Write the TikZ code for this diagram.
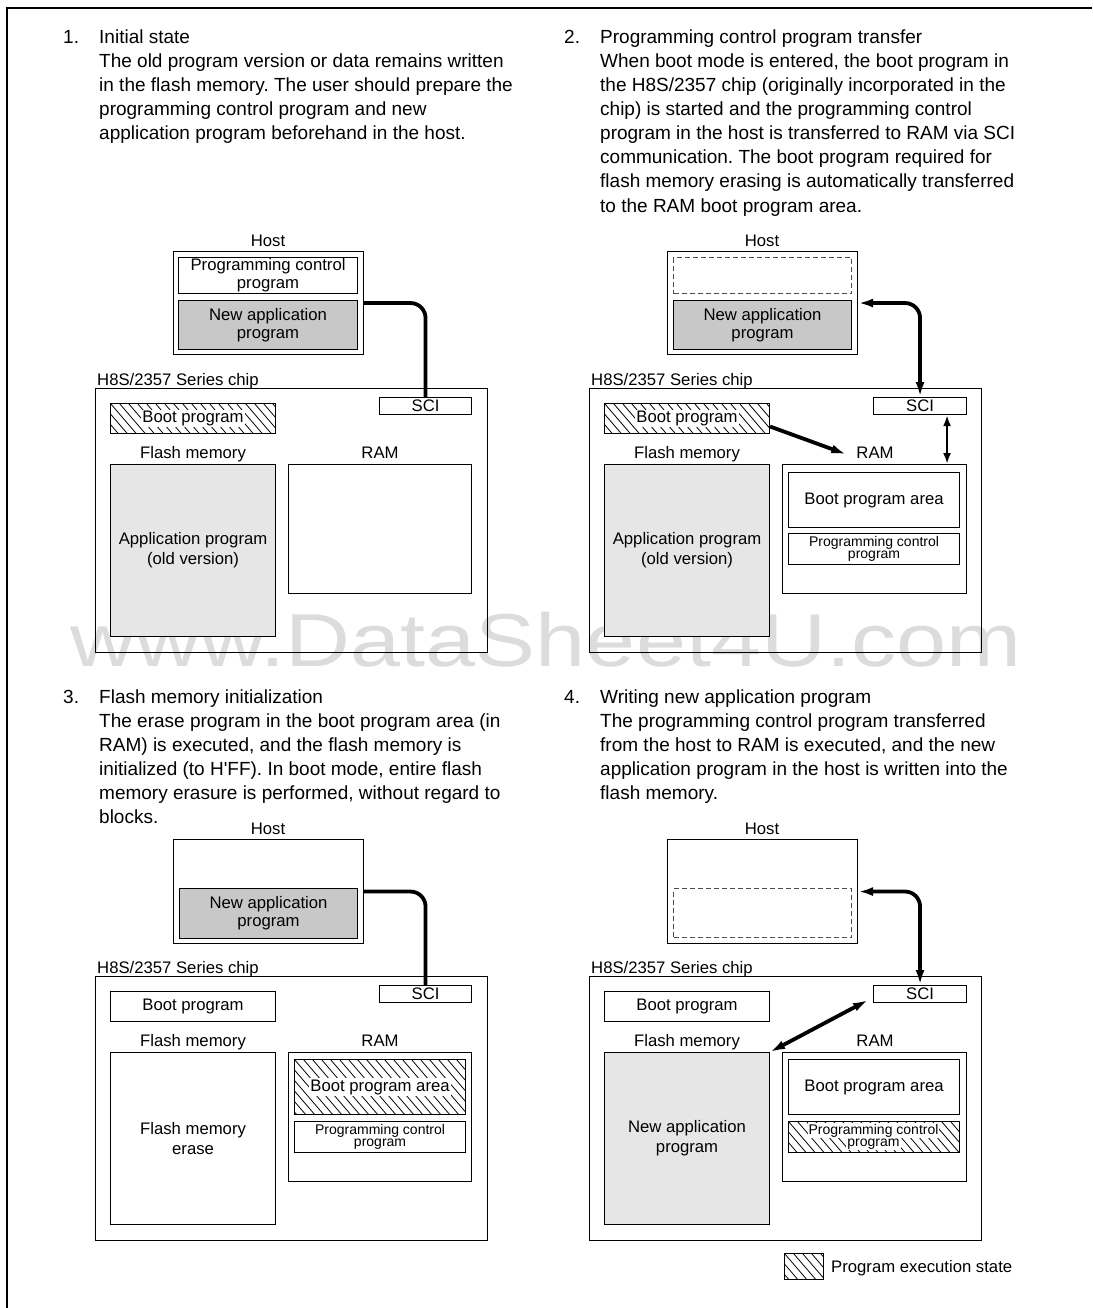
\documentclass[tikz,border=0pt]{standalone}
\usepackage{fontspec}
\setmainfont{Liberation Sans}
\usetikzlibrary{arrows.meta}
\definecolor{dg}{RGB}{200,200,200}
\definecolor{lg}{RGB}{230,230,230}
\definecolor{wm}{RGB}{220,220,220}
\newcommand{\txtf}{\fontsize{19}{24}\selectfont}
\newcommand{\labf}{\fontsize{16.7}{18}\selectfont}
\newcommand{\labtf}{\fontsize{16.7}{20}\selectfont}
\newcommand{\smf}{\fontsize{14}{12}\selectfont}
\newcommand{\rbox}[7]{\node[box,#2,minimum width={(#5-#3)*1pt},minimum height={(#6-#4)*1pt}] (#1) at (#3,#4) {#7};}
\frenchspacing
\begin{document}
\frenchspacing
\begin{tikzpicture}[x=1pt,y=-1pt,
  box/.style={draw=black,line width=1.1pt,inner sep=0pt,anchor=north west,align=center,font=\labf},
  dashbox/.style={draw=black!70,line width=1pt,dash pattern=on 5pt off 3pt},
  hatch/.style={path picture={\foreach \k in {-8,...,21}{\draw[line width=0.8pt] ([xshift=\k*9pt]path picture bounding box.north west) -- ++(60pt,-70pt);}}},
  lbw/.style={fill=white,inner sep=1.2pt,font=\labf},
  lab/.style={anchor=base,font=\labf,inner sep=0pt},
  para/.style={anchor=base west,font=\txtf,inner sep=0pt},
  conn/.style={line width=3.8pt},
  >={Latex[length=15pt,width=9pt]}]
\useasboundingbox (0,0) rectangle (1092,1308);
% watermark
\node[anchor=base,inner sep=0pt,text=wm,font=\fontsize{75}{75}\selectfont] (wmk) at (546,666) {\scalebox{1.2}[1]{www.DataSheet4U.com}};
% frame
\draw[line width=1.4pt] (1092,8) -- (7,8) -- (7,1308);

% ---------- texts ----------
\node[para] (n1) at (63,44) {1.};
\node[para] (p1a) at (99,44) {Initial state};
\node[para] (p1b) at (99,68) {The old program version or data remains written};
\node[para] (p1c) at (99,92) {in the flash memory. The user should prepare the};
\node[para] (p1d) at (99,116) {programming control program and new};
\node[para] (p1e) at (99,140) {application program beforehand in the host.};

\node[para] (n2) at (564,44) {2.};
\node[para] (p2a) at (600,44) {Programming control program transfer};
\node[para] (p2b) at (600,68) {When boot mode is entered, the boot program in};
\node[para] (p2c) at (600,92) {the H8S/2357 chip (originally incorporated in the};
\node[para] (p2d) at (600,116) {chip) is started and the programming control};
\node[para] (p2e) at (600,140) {program in the host is transferred to RAM via SCI};
\node[para] (p2f) at (600,164) {communication. The boot program required for};
\node[para] (p2g) at (600,188) {flash memory erasing is automatically transferred};
\node[para] (p2h) at (600,212) {to the RAM boot program area.};

\node[para] (n3) at (63,703) {3.};
\node[para] (p3a) at (99,703) {Flash memory initialization};
\node[para] (p3b) at (99,727) {The erase program in the boot program area (in};
\node[para] (p3c) at (99,751) {RAM) is executed, and the flash memory is};
\node[para] (p3d) at (99,775) {initialized (to H\textquotesingle FF). In boot mode, entire flash};
\node[para] (p3e) at (99,799) {memory erasure is performed, without regard to};
\node[para] (p3f) at (99,823) {blocks.};

\node[para] (n4) at (564,703) {4.};
\node[para] (p4a) at (600,703) {Writing new application program};
\node[para] (p4b) at (600,727) {The programming control program transferred};
\node[para] (p4c) at (600,751) {from the host to RAM is executed, and the new};
\node[para] (p4d) at (600,775) {application program in the host is written into the};
\node[para] (p4e) at (600,799) {flash memory.};

% ---------- panel 1 ----------
\node[lab] (h1l) at (268,246) {Host};
\rbox{h1}{}{173}{251}{363}{354}{}
\rbox{h1a}{}{178}{257}{357}{293}{Programming control\\program}
\rbox{h1b}{fill=dg}{178}{300}{357}{349}{New application\\program}
\node[lab,anchor=base west] (c1l) at (97,385) {H8S/2357 Series chip};
\rbox{c1}{}{95}{388}{487}{652}{}
\rbox{s1}{}{379}{397}{471}{414}{SCI}
\rbox{b1}{hatch}{110}{403}{275}{433}{}
\node[lbw] (b1t) at (b1.center) {Boot program};
\node[lab] (f1l) at (193,458) {Flash memory};
\rbox{f1}{fill=lg,font=\labtf}{110}{464}{275}{636}{Application program\\(old version)}
\node[lab] (r1l) at (380,458) {RAM};
\rbox{r1}{}{288}{464}{471}{593}{}
\draw[conn,rounded corners=15pt] (h1.east) -| (s1.north);

% ---------- panel 2 ----------
\node[lab] (h2l) at (762,246) {Host};
\rbox{h2}{}{667}{251}{857}{354}{}
\rbox{h2a}{dashbox}{673}{257}{851}{293}{}
\rbox{h2b}{fill=dg}{673}{300}{851}{349}{New application\\program}
\node[lab,anchor=base west] (c2l) at (591,385) {H8S/2357 Series chip};
\rbox{c2}{}{589}{388}{981}{652}{}
\rbox{s2}{}{873}{397}{966}{414}{SCI}
\rbox{b2}{hatch}{604}{403}{769}{433}{}
\node[lbw] (b2t) at (b2.center) {Boot program};
\node[lab] (f2l) at (687,458) {Flash memory};
\rbox{f2}{fill=lg,font=\labtf}{604}{464}{769}{636}{Application program\\(old version)}
\node[lab] (r2l) at (875,458) {RAM};
\rbox{r2}{}{782}{464}{966}{593}{}
\rbox{r2a}{}{788}{472}{959}{527}{Boot program area}
\rbox{r2b}{font=\smf}{788}{533}{959}{564}{Programming control\\program}
\draw[conn,<->,rounded corners=15pt] (h2.east) -| (s2.north);
\draw[conn,->] ([yshift=-8pt]b2.east) -- ([xshift=-10pt,yshift=-2pt]r2l.west);
\draw[line width=2.6pt,{Latex[length=11pt,width=8pt]}-{Latex[length=11pt,width=8pt]}] ([xshift=27pt]s2.south) -- ([xshift=27pt]s2.south |- r2.north);

% ---------- panel 3 ----------
\node[lab] (h3l) at (268,834) {Host};
\rbox{h3}{}{173}{839}{363}{943}{}
\rbox{h3b}{fill=dg}{179}{888}{357}{938}{New application\\program}
\node[lab,anchor=base west] (c3l) at (97,973) {H8S/2357 Series chip};
\rbox{c3}{}{95}{976}{487}{1240}{}
\rbox{s3}{}{379}{985}{471}{1002}{SCI}
\rbox{b3}{}{110}{991}{275}{1021}{Boot program}
\node[lab] (f3l) at (193,1046) {Flash memory};
\rbox{f3}{font=\labtf}{110}{1052}{275}{1224}{Flash memory\\erase}
\node[lab] (r3l) at (380,1046) {RAM};
\rbox{r3}{}{288}{1052}{471}{1181}{}
\rbox{r3a}{hatch}{294}{1059}{465}{1114}{}
\node[lbw] (r3at) at (r3a.center) {Boot program area};
\rbox{r3b}{font=\smf}{294}{1121}{465}{1152}{Programming control\\program}
\draw[conn,rounded corners=15pt] (h3.east) -| (s3.north);

% ---------- panel 4 ----------
\node[lab] (h4l) at (762,834) {Host};
\rbox{h4}{}{667}{839}{857}{943}{}
\rbox{h4a}{dashbox}{673}{888}{851}{937}{}
\node[lab,anchor=base west] (c4l) at (591,973) {H8S/2357 Series chip};
\rbox{c4}{}{589}{976}{981}{1240}{}
\rbox{s4}{}{873}{985}{966}{1002}{SCI}
\rbox{b4}{}{604}{991}{769}{1021}{Boot program}
\node[lab] (f4l) at (687,1046) {Flash memory};
\rbox{f4}{fill=lg,font=\labtf}{604}{1052}{769}{1224}{New application\\program}
\node[lab] (r4l) at (875,1046) {RAM};
\rbox{r4}{}{782}{1052}{966}{1181}{}
\rbox{r4a}{}{788}{1059}{959}{1114}{Boot program area}
\rbox{r4b}{hatch}{788}{1121}{959}{1152}{}
\node[anchor=base,fill=white,inner sep=1pt,font=\smf] (r4b1) at (873.5,1134) {Programming control};
\node[anchor=base,fill=white,inner sep=1pt,font=\smf] (r4b2) at (873.5,1146) {program};
\draw[conn,<->,rounded corners=15pt] (h4.east) -| (s4.north);
\draw[conn,<->] (f4.north east) -- ([xshift=-5pt,yshift=-6pt]s4.west);

% ---------- legend ----------
\rbox{lgb}{hatch}{784}{1253}{823}{1279}{}
\node[lab,anchor=base west] (lgt) at (831,1272) {Program execution state};
\end{tikzpicture}
\end{document}
